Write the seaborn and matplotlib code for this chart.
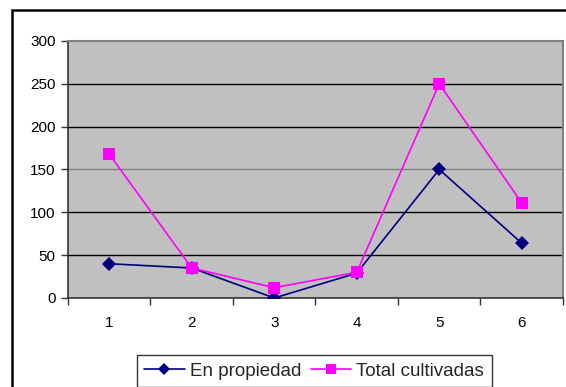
import matplotlib
matplotlib.use("Agg")
import matplotlib.pyplot as plt
from matplotlib.patches import Rectangle
from matplotlib.lines import Line2D
import seaborn as sns
import pandas as pd

categorias = [1, 2, 3, 4, 5, 6]
en_propiedad = [40, 35, 0, 29, 150, 64]
total_cultivadas = [168, 35, 12, 30, 250, 111]
serie_nombres = ["En propiedad", "Total cultivadas"]
y_ticks = [0, 50, 100, 150, 200, 250, 300]

df = pd.DataFrame({
    "x": categorias * 2,
    "valor": en_propiedad + total_cultivadas,
    "serie": [serie_nombres[0]] * len(categorias) + [serie_nombres[1]] * len(categorias),
})

sns.set_theme(style="white")
plt.rcParams["font.family"] = ["Liberation Sans", "DejaVu Sans"]

fig = plt.figure(figsize=(5.66, 3.87), dpi=100)
fig.patch.set_facecolor("white")
ax = fig.add_axes([0.1201, 0.2300, 0.8746, 0.6641])
ax.set_facecolor("#C0C0C0")

palette = {serie_nombres[0]: "#000080", serie_nombres[1]: "#FF00FF"}
markers = {serie_nombres[0]: "D", serie_nombres[1]: "s"}
msizes = {serie_nombres[0]: 7, serie_nombres[1]: 8}
sns.lineplot(data=df, x="x", y="valor", hue="serie", style="serie",
             palette=palette, markers=markers, dashes=False,
             linewidth=1.2, markersize=7, markeredgewidth=0,
             ax=ax, legend=False, zorder=3)
for line, n in zip(ax.get_lines(), serie_nombres):
    line.set_markersize(msizes[n])

ax.set_xlim(0.5, 6.5)
ax.set_ylim(0, 300)
ax.set_yticks(y_ticks)
ax.set_yticklabels([str(v) for v in y_ticks], fontsize=11, color="black")
ax.set_xticks([c - 0.5 for c in categorias] + [categorias[-1] + 0.5])
ax.set_xticklabels([])
ax.set_xticks(categorias, minor=True)
ax.set_xticklabels([str(c) for c in categorias], minor=True, fontsize=11, color="black")
ax.tick_params(axis="y", which="major", direction="out", length=5, width=1,
               color="#333333", pad=4, left=True)
ax.tick_params(axis="x", which="major", direction="out", length=5, width=1,
               color="#333333", bottom=True)
ax.tick_params(axis="x", which="minor", length=0, pad=13, bottom=True)
ax.set_xlabel("")
ax.set_ylabel("")

for v in y_ticks[1:-1]:
    ax.axhline(v, color="#808080" if v == 150 else "black", lw=1, zorder=1)

for side in ["top", "right"]:
    ax.spines[side].set_color("#808080")
    ax.spines[side].set_linewidth(1.5)
ax.spines["left"].set_color("#333333")
ax.spines["bottom"].set_color("#333333")
ax.spines["left"].set_linewidth(1.2)
ax.spines["bottom"].set_linewidth(1.2)

# legend
handles = [Line2D([0], [0], color=palette[n], marker=markers[n], lw=1.2,
                  markersize=msizes[n] - 0.5, markeredgewidth=0)
           for n in serie_nombres]
leg = fig.legend(handles, serie_nombres, loc="upper center", bbox_to_anchor=(0.555, 1 - 355 / 387),
                 ncol=2, fontsize=13.5, frameon=True, fancybox=False, handlelength=2.15,
                 handletextpad=0.27, columnspacing=0.53, borderpad=0.4,
                 borderaxespad=0)
leg.get_frame().set_edgecolor("black")
leg.get_frame().set_linewidth(1)

# outer chart frame
frame = Rectangle((12 / 566, -0.1), 1.2, 1 - 10 / 387 + 0.1, transform=fig.transFigure,
                  fill=False, edgecolor="black", linewidth=1.8, clip_on=False)
fig.patches.append(frame)

fig.savefig("out.png", dpi=100)
